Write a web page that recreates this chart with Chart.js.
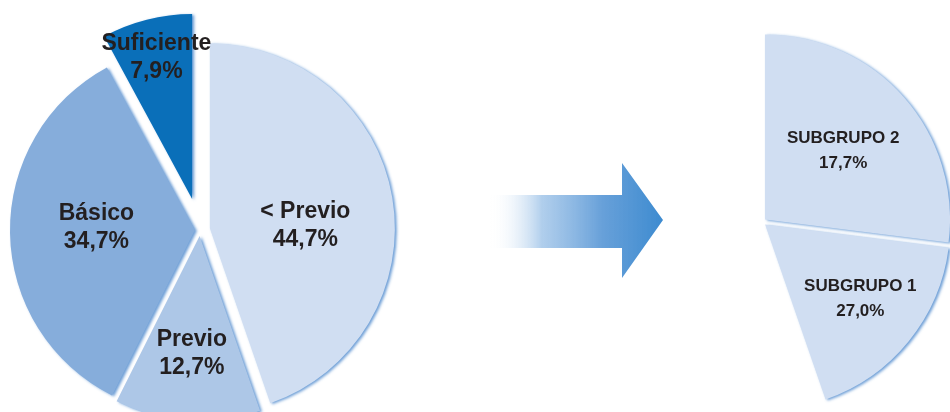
<!DOCTYPE html>
<html>
<head>
<meta charset="utf-8">
<script src="https://cdn.jsdelivr.net/npm/chart.js@4/dist/chart.umd.min.js"></script>
<style>
  html, body { margin: 0; padding: 0; background: #fff; }
  #wrap { position: relative; width: 950px; height: 412px; overflow: hidden; }
  #wrap canvas { position: absolute; left: 0; top: 0; }
</style>
</head>
<body>
<div id="wrap">
  <canvas id="mainPie" width="950" height="412"></canvas>
  <canvas id="subPie" width="950" height="412"></canvas>
</div>
<script>
// --------------------
// Data
// --------------------
const levels = ["< Previo", "Previo", "Básico", "Suficiente"];
const levelValues = [44.7, 12.7, 34.7, 7.9];

// "< Previo" split into two subgroups (labels as printed)
const subgroups = ["SUBGRUPO 2", "SUBGRUPO 1"];
const subgroupValues = [17.7, 27.0];
// slice sizes as drawn in the picture: the top slice is the larger one
const subgroupSlices = [27.0, 17.7];

// --------------------
// Look
// --------------------
const RADIUS = 185;
const levelColors = ["#d0def2", "#adc7e7", "#86addb", "#0a6fb9"];
const levelExplode = [10, 6, 5, 32];   // px each slice is pulled out
const subColors = ["#d0def2", "#d0def2"];
const subExplode = [4, 4];

// label placement: [angle shift in degrees, distance from pie centre as share of radius]
const levelLabelPos = [[7, 0.57], [0, 0.67], [2, 0.56], [0, 0.96]];
const subLabelPos = [[0, 0.585], [-1, 0.675]];

function pct(v) {
  return v.toFixed(1).replace(".", ",") + "%";
}

// --------------------
// Plugins
// --------------------

// move each arc out along its own middle angle (plain shift, radius kept)
const explode = {
  id: "explode",
  afterDatasetsUpdate(chart, args, opts) {
    chart.getDatasetMeta(0).data.forEach((arc, i) => {
      const mid = (arc.startAngle + arc.endAngle) / 2;
      const d = opts.dist[i] || 0;
      arc.x += Math.cos(mid) * d;
      arc.y += Math.sin(mid) * d;
    });
  }
};

const sliceShadow = {
  id: "sliceShadow",
  beforeDatasetsDraw(chart) {
    const ctx = chart.ctx;
    ctx.save();
    ctx.shadowColor = "rgba(60, 125, 200, 0.75)";
    ctx.shadowBlur = 3;
    ctx.shadowOffsetX = 2;
    ctx.shadowOffsetY = 1;
  },
  afterDatasetsDraw(chart) {
    chart.ctx.restore();
  }
};

const sliceLabels = {
  id: "sliceLabels",
  afterDatasetsDraw(chart, args, opts) {
    const ctx = chart.ctx;
    const arcs = chart.getDatasetMeta(0).data;
    const dist = chart.options.plugins.explode.dist;
    ctx.save();
    ctx.fillStyle = "#231f20";
    ctx.font = "bold " + opts.size + "px 'Liberation Sans', Arial, sans-serif";
    ctx.textAlign = "center";
    ctx.textBaseline = "middle";
    arcs.forEach((arc, i) => {
      const base = (arc.startAngle + arc.endAngle) / 2;
      // pie centre before the slice was pulled out
      const ox = arc.x - Math.cos(base) * (dist[i] || 0);
      const oy = arc.y - Math.sin(base) * (dist[i] || 0);
      const [shift, share] = opts.pos[i];
      const mid = base + shift * Math.PI / 180;
      const cx = ox + Math.cos(mid) * arc.outerRadius * share;
      const cy = oy + Math.sin(mid) * arc.outerRadius * share;
      ctx.fillText(opts.names[i], cx, cy - opts.lineHeight / 2);
      ctx.fillText(pct(opts.values[i]), cx, cy + opts.lineHeight / 2);
    });
    ctx.restore();
  }
};

const arrow = {
  id: "arrow",
  beforeDatasetsDraw(chart) {
    const ctx = chart.ctx;
    const g = ctx.createLinearGradient(490, 0, 663, 0);
    g.addColorStop(0, "rgba(255,255,255,0)");
    g.addColorStop(0.3, "rgba(150,190,230,0.75)");
    g.addColorStop(0.65, "rgba(95,155,215,0.95)");
    g.addColorStop(1, "#3d8bd0");
    ctx.save();
    ctx.fillStyle = g;
    ctx.beginPath();
    ctx.moveTo(490, 195);
    ctx.lineTo(622, 195);
    ctx.lineTo(622, 163);
    ctx.lineTo(663, 220);
    ctx.lineTo(622, 278);
    ctx.lineTo(622, 248);
    ctx.lineTo(490, 248);
    ctx.closePath();
    ctx.fill();
    ctx.restore();
  }
};

// --------------------
// Charts
// --------------------
const common = {
  responsive: false,
  devicePixelRatio: 1,
  animation: false,
  plugins: {
    legend: { display: false },
    tooltip: { enabled: false }
  }
};

new Chart(document.getElementById("mainPie"), {
  type: "pie",
  data: {
    labels: levels,
    datasets: [{
      data: levelValues,
      backgroundColor: levelColors,
      borderWidth: 0,
      radius: RADIUS,
      clip: false
    }]
  },
  options: {
    ...common,
    layout: { padding: { left: 0, right: 550, top: 48, bottom: 0 } },
    plugins: {
      ...common.plugins,
      explode: { dist: levelExplode },
      sliceLabels: { names: levels, values: levelValues, pos: levelLabelPos, size: 23, lineHeight: 28 }
    }
  },
  plugins: [explode, sliceShadow, sliceLabels]
});

const subTotal = subgroupSlices.reduce((a, b) => a + b, 0);

new Chart(document.getElementById("subPie"), {
  type: "pie",
  data: {
    labels: subgroups,
    datasets: [{
      data: subgroupSlices,
      backgroundColor: subColors,
      borderWidth: 0,
      radius: RADIUS,
      clip: false
    }]
  },
  options: {
    ...common,
    circumference: subTotal * 3.6,
    layout: { padding: { left: 759, right: 0, top: 22, bottom: 0 } },
    plugins: {
      ...common.plugins,
      explode: { dist: subExplode },
      sliceLabels: { names: subgroups, values: subgroupValues, pos: subLabelPos, size: 17, lineHeight: 25 }
    }
  },
  plugins: [arrow, explode, sliceShadow, sliceLabels]
});
</script>
</body>
</html>
